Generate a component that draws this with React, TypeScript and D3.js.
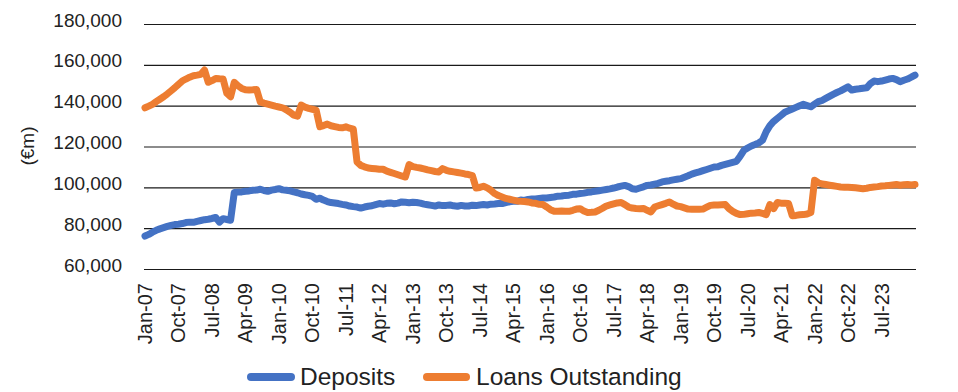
import React from "react";
import * as d3 from "d3";

// monthly, Jan-07 .. Apr-24 (€m)
const months = d3.timeMonth
  .range(new Date(2007, 0, 1), new Date(2024, 4, 1))
  .map((d) => d3.timeFormat("%b-%y")(d));

const tickLabels = [
  "Jan-07", "Oct-07", "Jul-08", "Apr-09", "Jan-10", "Oct-10", "Jul-11", "Apr-12",
  "Jan-13", "Oct-13", "Jul-14", "Apr-15", "Jan-16", "Oct-16", "Jul-17", "Apr-18",
  "Jan-19", "Oct-19", "Jul-20", "Apr-21", "Jan-22", "Oct-22", "Jul-23",
];

const yTicks = [60000, 80000, 100000, 120000, 140000, 160000, 180000];

const deposits = [
  76400, 77200, 78300, 79200, 79900, 80500, 81100, 81600, 82000, 82200, 82500, 83000,
  83200, 83100, 83600, 84000, 84400, 84600, 85000, 85500, 83200, 84900, 84500, 84100,
  97700, 97900, 98000, 98300, 98500, 98800, 98900, 99300, 98700, 98300, 98900, 99200,
  99600, 99000, 98800, 98500, 98000, 97600, 97000, 96600, 96300, 95800, 94400, 94900,
  94000, 93300, 92800, 92600, 92300, 91900, 91600, 91100, 90800, 90600, 90100, 90600,
  91000, 91200, 91800, 92300, 92000, 92400, 92600, 92200, 92500, 93100, 92900, 92700,
  92900, 92800, 92500, 92000, 91700, 91400, 91100, 91600, 91300, 91400, 91600, 91200,
  91000, 91400, 91100, 91100, 91500, 91300, 91600, 91800, 91600, 92000, 92100, 92300,
  92300, 92800, 93200, 93400, 93400, 94000, 93800, 94300, 94500, 94500, 94800, 95000,
  95000, 95300, 95500, 95900, 96000, 96300, 96400, 96800, 96900, 97200, 97400, 97800,
  98000, 98300, 98600, 98900, 99200, 99500, 99900, 100400, 100800, 101200, 100600, 99500,
  99300, 99900, 100500, 101200, 101400, 101800, 102200, 102900, 103200, 103500, 103900, 104200,
  104500, 105200, 105900, 106700, 107300, 107800, 108400, 109000, 109600, 110200, 110300, 111000,
  111500, 112000, 112500, 113000, 115500, 118400, 119500, 120500, 121200, 122000, 123300, 127500,
  130500, 132500, 134000, 135500, 137000, 137800, 138600, 139400, 140200, 140900, 140300, 139700,
  141000, 142200, 142800, 143800, 144800, 145800, 146700, 147500, 148500, 149500, 147900, 148300,
  148500, 148800, 149000, 151000, 152300, 152000, 152300, 152800, 153300, 153600, 153000, 152000,
  152700, 153300, 154200, 155200,
];

const loans = [
  139200, 140000, 140900, 142200, 143400, 144600, 146000, 147500, 149000, 150700, 152300, 153300,
  154200, 154900, 155200, 155600, 157700, 151700, 152500, 153600, 153400, 153300, 146300, 144600,
  151700, 150000, 148700, 148000, 147900, 148000, 148200, 142100, 141500, 141000, 140500, 140000,
  139600, 139200, 138200, 137000, 135600, 135100, 140500, 139500, 138900, 138500, 138100, 129900,
  130500, 131200, 130400, 130000, 129600, 129400, 129900, 129200, 128700, 112700, 111000, 110300,
  109700, 109500, 109300, 109100, 109100, 108200, 107600, 107000, 106400, 105800, 105300, 111400,
  110400, 110000, 109700, 109300, 108800, 108400, 108000, 107800, 109400, 108600, 108100, 107800,
  107500, 107200, 106800, 106500, 106000, 99900, 100200, 100800, 100000, 98800, 97200, 96200,
  95500, 94800, 94400, 94000, 93600, 93400, 93300, 93100, 92600, 92400, 91900, 91800,
  90600, 89300, 88500, 88500, 88600, 88500, 88500, 89000, 89600, 89800, 88600, 87900,
  88000, 88200, 89000, 90000, 91100, 91600, 92100, 92600, 92800, 91800, 90600, 90100,
  89900, 89800, 89900, 89000, 88200, 90600, 91200, 91800, 92400, 93100, 92000, 91100,
  90800, 90200, 89600, 89500, 89500, 89500, 89600, 90500, 91400, 91600, 91600, 91700,
  91800, 89800, 88500, 87500, 86900, 87000, 87300, 87600, 87700, 87900, 87500, 86900,
  91800, 89800, 92800, 92500, 92400, 92300, 86300, 86500, 86800, 86900, 87200, 87900,
  103700, 102500, 101900, 101600, 101300, 101000, 100700, 100400, 100300, 100300, 100200, 100000,
  99800, 99600, 99800, 100200, 100400, 100600, 100900, 101000, 101200, 101400, 101600, 101300,
  101500, 101600, 101400, 101600,
];

const series = [
  { name: "Deposits", color: "#4472C4", values: deposits },
  { name: "Loans Outstanding", color: "#ED7D31", values: loans },
];

const W = 958;
const H = 392;
const FONT = "'Liberation Sans', Arial, sans-serif";

export default function App() {
  const x = d3.scalePoint<string>().domain(months).range([145, 915]);
  const y = d3.scaleLinear().domain([60000, 180000]).range([269.5, 24.5]);

  const line = d3
    .line<number>()
    .x((_, i) => x(months[i]) as number)
    .y((d) => y(d));

  const fmt = d3.format(",");

  return (
    <svg
      width={W}
      height={H}
      style={{ position: "absolute", left: 0, top: 0, background: "#fff" }}
      fontFamily={FONT}
    >
      {/* gridlines */}
      {yTicks.map((t) => (
        <line key={t} x1={144} x2={916} y1={y(t)} y2={y(t)} stroke="#1a1a1a" strokeWidth={1.2} />
      ))}

      {/* y labels */}
      {yTicks.map((t) => (
        <text key={"l" + t} x={122} y={y(t) + 2} textAnchor="end" fontSize={19} fill="#222">
          {fmt(t)}
        </text>
      ))}

      <text transform="translate(34,146) rotate(-90)" textAnchor="middle" fontSize={19} fill="#222">
        (€m)
      </text>

      {/* x labels */}
      {tickLabels.map((l) => (
        <text
          key={l}
          transform={`translate(${(x(l) as number) + 7},283) rotate(-90)`}
          textAnchor="end"
          fontSize={20}
          fill="#222"
        >
          {l}
        </text>
      ))}

      {/* series */}
      {series.map((s) => (
        <path
          key={s.name}
          d={line(s.values) as string}
          fill="none"
          stroke={s.color}
          strokeWidth={7}
          strokeLinejoin="round"
          strokeLinecap="round"
        />
      ))}

      {/* legend */}
      <line x1={251} x2={291} y1={377} y2={377} stroke={series[0].color} strokeWidth={8} strokeLinecap="round" />
      <text x={300} y={385} fontSize={24.5} fill="#222">Deposits</text>
      <line x1={427} x2={466} y1={377} y2={377} stroke={series[1].color} strokeWidth={8} strokeLinecap="round" />
      <text x={476} y={385} fontSize={24.5} fill="#222">Loans Outstanding</text>
    </svg>
  );
}
